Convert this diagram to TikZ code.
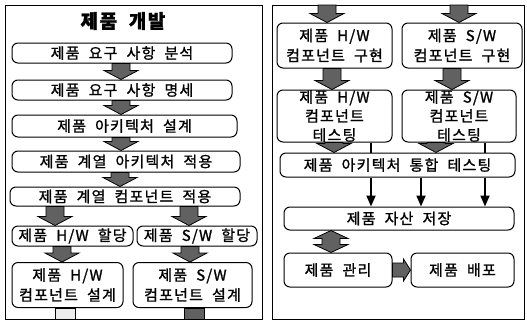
\documentclass[tikz,border=0pt]{standalone}
\usepackage{fontspec}
\setmainfont{Noto Sans CJK KR}[WordSpace=2.0, LetterSpace=8, FakeBold=1.2]
\usetikzlibrary{arrows.meta,calc}
\definecolor{ag}{gray}{0.38}
\tikzset{
  box/.style={draw, rounded corners=6pt, line width=1pt, align=center, inner sep=0pt,
    font=\fontsize{15}{20}\selectfont},
  frame/.style={draw, line width=1pt},
  blk/.style={draw=black, fill=ag, line width=0.8pt},
  thin/.style={line width=2pt},
  thinarr/.style={line width=2pt, -{Triangle[width=9pt,length=11pt]}},
}
\newcommand\vblock[3]{%
  \path[blk] let \p1=(#2), \p2=(#3) in
   (#1pt-9pt,\y1) -- (#1pt+9pt,\y1) -- (#1pt+9pt,\y2+9pt) -- (#1pt+17pt,\y2+9pt)
   -- (#1pt,\y2) -- (#1pt-17pt,\y2+9pt) -- (#1pt-9pt,\y2+9pt) -- cycle;}
\begin{document}
\begin{tikzpicture}[x=1pt,y=-1pt]
\useasboundingbox (0,0) rectangle (527,322);
% frames
\draw[frame] (5,5) rectangle (262,319);
\draw[frame] (272,5) rectangle (524,319);
% left panel
\node[font=\fontsize{19}{22}\selectfont\bfseries] (title) at (123,21) {제품 개발};
\node[box, minimum width=220pt, minimum height=20pt] (b1) at (122,53) {제품 요구 사항 분석};
\node[box, minimum width=220pt, minimum height=20pt] (b2) at (122,90) {제품 요구 사항 명세};
\node[box, minimum width=225pt, minimum height=22pt] (b3) at (124.5,126) {제품 아키텍처 설계};
\node[box, minimum width=228pt, minimum height=21pt] (b4) at (126,161.5) {제품 계열 아키텍처 적용};
\node[box, minimum width=230pt, minimum height=19pt] (b5) at (125,196.5) {제품 계열 컴포넌트 적용};
\node[box, minimum width=121pt, minimum height=20pt] (b6a) at (72.5,236) {제품 H/W 할당};
\node[box, minimum width=120pt, minimum height=20pt] (b6b) at (197,236) {제품 S/W 할당};
\node[box, minimum width=111pt, minimum height=45pt] (b7a) at (67.5,285) {제품 H/W\\컴포넌트 설계};
\node[box, minimum width=119pt, minimum height=45pt] (b7b) at (192.5,285) {제품 S/W\\컴포넌트 설계};
\vblock{121}{b1.south}{b2.north}
\vblock{121}{b2.south}{b3.north}
\vblock{121}{b3.south}{b4.north}
\vblock{120}{b4.south}{b5.north}
\vblock{55}{b5.south}{b6a.north}
\vblock{189}{b5.south}{b6b.north}
\vblock{62}{b6a.south}{b7a.north}
\vblock{190}{b6b.south}{b7b.north}
\path[blk, fill=gray!15] let \p1=(b7a.south) in (55pt,\y1) rectangle (75pt,-319pt);
\path[blk] let \p1=(b7b.south) in (184pt,\y1) rectangle (204pt,-319pt);
% right panel
\coordinate (rtop) at (400,5);
\node[box, minimum width=115pt, minimum height=45pt] (r1a) at (334.5,45.5) {제품 H/W\\컴포넌트 구현};
\node[box, minimum width=120pt, minimum height=45pt] (r1b) at (462,45.5) {제품 S/W\\컴포넌트 구현};
\node[box, minimum width=115pt, minimum height=52pt, font=\fontsize{15}{19}\selectfont] (r2a) at (334.5,116) {제품 H/W\\컴포넌트\\테스팅};
\node[box, minimum width=114pt, minimum height=52pt, font=\fontsize{15}{19}\selectfont] (r2b) at (459,116) {제품 S/W\\컴포넌트\\테스팅};
\node[box, minimum width=235pt, minimum height=24pt] (r3) at (397.5,165) {제품 아키텍처 통합 테스팅};
\node[box, minimum width=230pt, minimum height=23pt] (r4) at (399,218.5) {제품 자산 저장};
\node[box, minimum width=108pt, minimum height=34pt] (r5a) at (338,270) {제품 관리};
\node[box, minimum width=103pt, minimum height=34pt] (r5b) at (462.5,270) {제품 배포};
\vblock{327}{rtop}{r1a.north}
\vblock{459}{rtop}{r1b.north}
\vblock{332}{r1a.south}{r2a.north}
\vblock{452}{r1b.south}{r2b.north}
\vblock{334}{r2a.south}{r3.north}
\vblock{436}{r2b.south}{r3.north}
\coordinate (xa) at (371,0);
\coordinate (xb) at (421,0);
\coordinate (xc) at (485,0);
\draw[thin] (r2a.south -| xa) -- (r3.north -| xa);
\draw[thin] (r2b.south -| xc) -- (r3.north -| xc);
\draw[thinarr] (r3.south -| xa) -- (r4.north -| xa);
\draw[thinarr] (r3.south -| xb) -- (r4.north -| xb);
\draw[thinarr] (r3.south -| xc) -- (r4.north -| xc);
% double block arrow r4 <-> r5a
\path[blk] let \p1=(r4.south), \p2=(r5a.north) in
  (331pt,\y1) -- (348pt,\y1-8pt) -- (340pt,\y1-8pt) -- (340pt,\y2+8pt) -- (348pt,\y2+8pt)
  -- (331pt,\y2) -- (314pt,\y2+8pt) -- (322pt,\y2+8pt) -- (322pt,\y1-8pt) -- (314pt,\y1-8pt) -- cycle;
% horizontal block arrow r5a -> r5b
\path[blk] let \p1=(r5a.east), \p2=(r5b.west) in
  (\x1,\y1+7pt) -- (\x2-7pt,\y1+7pt) -- (\x2-7pt,\y1+11pt) -- (\x2,\y1) -- (\x2-7pt,\y1-11pt)
  -- (\x2-7pt,\y1-7pt) -- (\x1,\y1-7pt) -- cycle;
\end{tikzpicture}
\end{document}
